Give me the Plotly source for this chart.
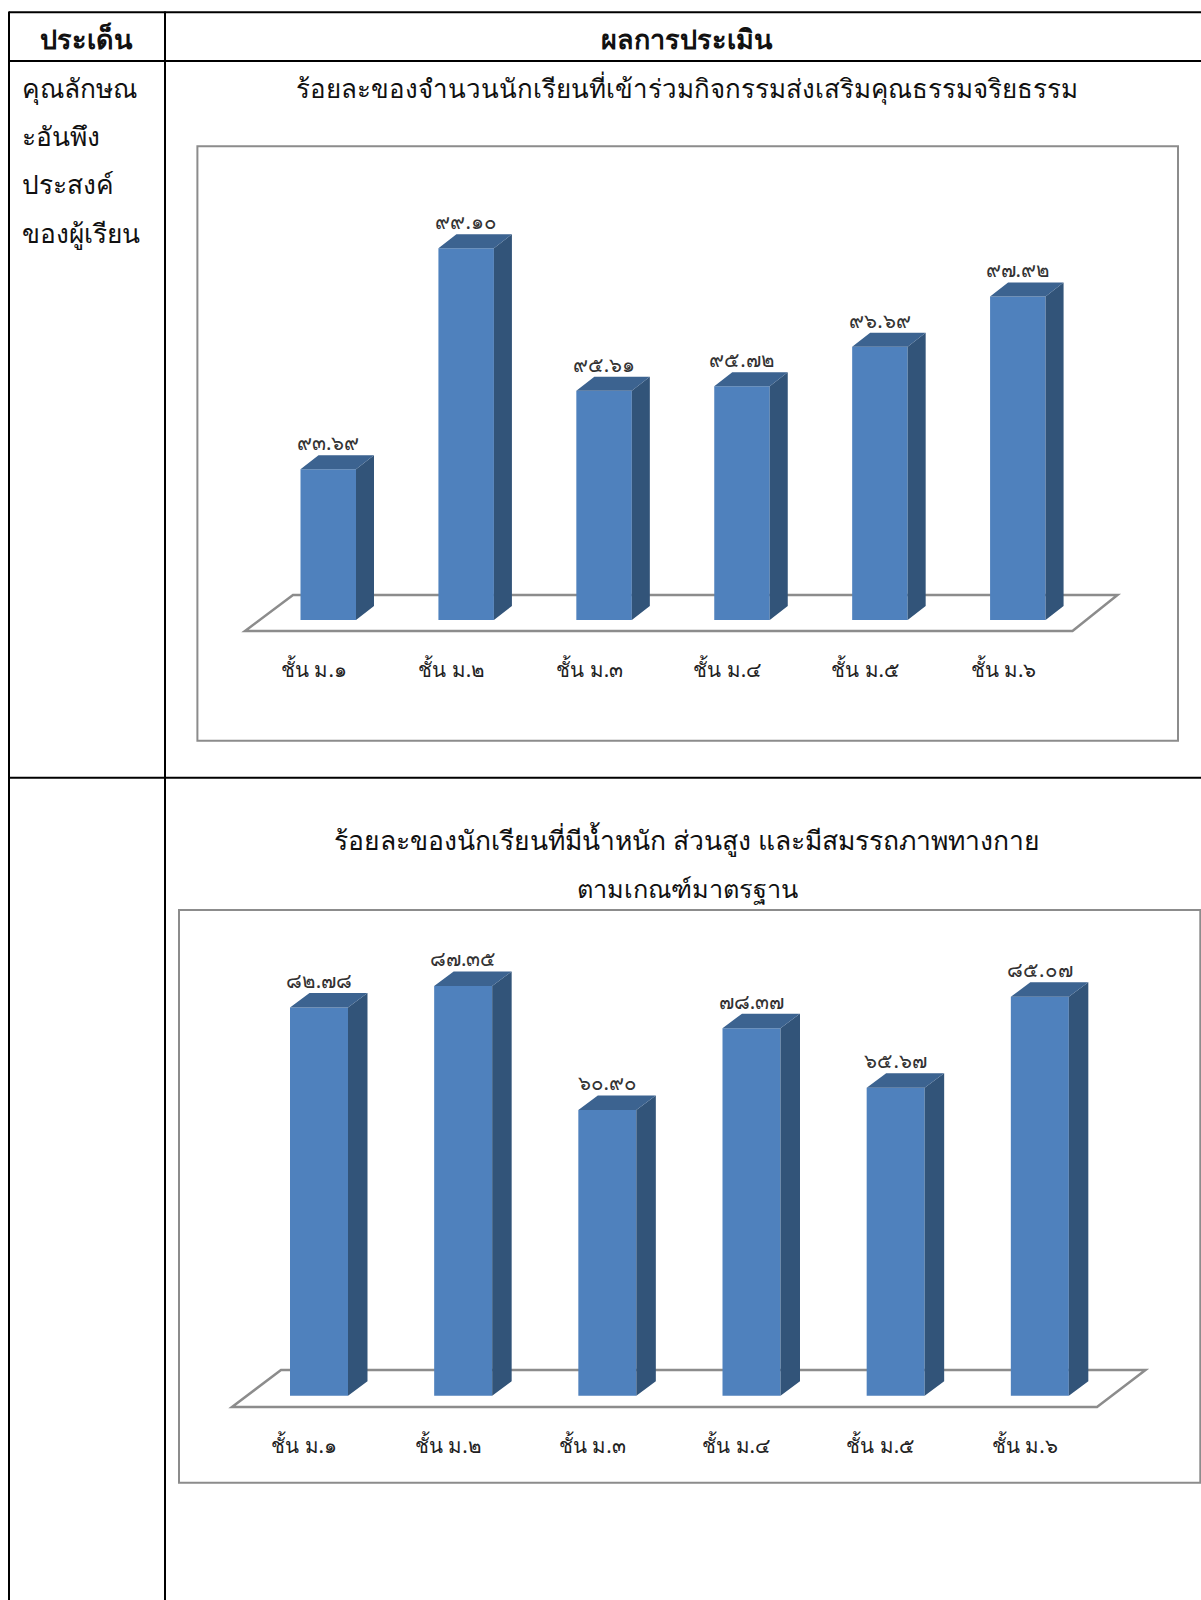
import plotly.graph_objects as go

W, H = 1201, 1600

# ---- data ----
categories = ["ชั้น ม.๑", "ชั้น ม.๒", "ชั้น ม.๓", "ชั้น ม.๔", "ชั้น ม.๕", "ชั้น ม.๖"]
activity_values = [93.69, 99.10, 95.61, 95.72, 96.69, 97.92]
fitness_values = [82.78, 87.35, 60.90, 78.37, 65.67, 85.07]
header_labels = ["ประเด็น", "ผลการประเมิน"]
side_lines = ["คุณลักษณ", "ะอันพึง", "ประสงค์", "ของผู้เรียน"]
title_one = "ร้อยละของจำนวนนักเรียนที่เข้าร่วมกิจกรรมส่งเสริมคุณธรรมจริยธรรม"
title_two = ["ร้อยละของนักเรียนที่มีน้ำหนัก ส่วนสูง และมีสมรรถภาพทางกาย", "ตามเกณฑ์มาตรฐาน"]

FONT = "Noto Sans, DejaVu Sans, sans-serif"
FRONT, SIDE, TOP = "#4F81BD", "#325479", "#3C6390"
GREY = "#8C8C8C"
THAI = str.maketrans("0123456789", "๐๑๒๓๔๕๖๗๘๙")
PAD = 5


def px(x):
    return x / W


def py(y):
    return 1 - y / H


fig = go.Figure()


def add_chart(idx, values, base, y_at_base, px_per_unit, floor_left, floor_right, floor_front_y,
              floor_back_y, floor_back_left, floor_back_right, bar_left, bar_w, depth_x, depth_y,
              top_y, label_y):
    ax = "" if idx == 1 else str(idx)
    slot = (floor_right - floor_left) / len(values)
    bottom = floor_front_y + PAD
    right = floor_back_right + PAD
    left = floor_left - PAD
    ulo = base - (bottom - y_at_base) / px_per_unit
    uhi = base + (y_at_base - top_y) / px_per_unit
    xs = list(range(len(values)))
    offs = (bar_left - (floor_left + slot / 2)) / slot
    wid = bar_w / slot
    dx, dy = depth_x / slot, depth_y / px_per_unit
    to_dx = lambda p: -0.5 + (p - floor_left) / slot
    to_dy = lambda p: base + (y_at_base - p) / px_per_unit

    fig.add_trace(go.Bar(x=xs, y=[v - base for v in values], base=[base] * len(values),
                         width=wid, offset=offs,
                         marker=dict(color=FRONT, line=dict(width=0)),
                         xaxis="x" + ax, yaxis="y" + ax, showlegend=False))
    side_x, side_y, top_x, top_y_ = [], [], [], []
    for i, v in zip(xs, values):
        l, r = i + offs, i + offs + wid
        side_x += [r, r + dx, r + dx, r, r, None]
        side_y += [base, base + dy, v + dy, v, base, None]
        top_x += [l, l + dx, r + dx, r, l, None]
        top_y_ += [v, v + dy, v + dy, v, v, None]
    for sx, sy, c in ((side_x, side_y, SIDE), (top_x, top_y_, TOP)):
        fig.add_trace(go.Scatter(x=sx, y=sy, mode="lines", fill="toself", fillcolor=c,
                                 line=dict(width=0, color=c), hoverinfo="skip",
                                 xaxis="x" + ax, yaxis="y" + ax, showlegend=False))
    fig.add_trace(go.Scatter(x=[i + offs + wid / 2 for i in xs], y=[v + dy for v in values],
                             mode="text", text=[f"{v:.2f}".translate(THAI) for v in values],
                             textposition="top center", textfont=dict(size=20.5, color="#333333", family=FONT),
                             xaxis="x" + ax, yaxis="y" + ax, showlegend=False, cliponaxis=False))

    path = (f"M {to_dx(floor_left)} {to_dy(floor_front_y)} L {to_dx(floor_right)} {to_dy(floor_front_y)} "
            f"L {to_dx(floor_back_right)} {to_dy(floor_back_y)} L {to_dx(floor_back_left)} {to_dy(floor_back_y)} Z")
    fig.add_shape(type="path", path=path, xref="x" + ax, yref="y" + ax, layer="below",
                  line=dict(color=GREY, width=2.5), fillcolor="white")

    fig.update_layout({
        "xaxis" + ax: dict(domain=[px(left), px(right)], range=[to_dx(left), to_dx(right)],
                           tickmode="array", tickvals=xs, ticktext=categories, showgrid=False,
                           zeroline=False, showline=False, ticks="outside", ticklen=label_y - PAD,
                           tickcolor="rgba(0,0,0,0)", anchor="y" + ax,
                           tickfont=dict(size=20.5, color="#222222", family=FONT)),
        "yaxis" + ax: dict(domain=[py(bottom), py(top_y)], range=[ulo, uhi], visible=False,
                           anchor="x" + ax),
    })


add_chart(1, activity_values, base=90, y_at_base=620, px_per_unit=40.85,
          floor_left=245, floor_right=1072.5, floor_front_y=631, floor_back_y=595,
          floor_back_left=293, floor_back_right=1117.5, bar_left=300.5, bar_w=55.5,
          depth_x=18, depth_y=14, top_y=160, label_y=20)
add_chart(2, fitness_values, base=0, y_at_base=1395.7, px_per_unit=4.69,
          floor_left=232, floor_right=1097, floor_front_y=1407, floor_back_y=1370,
          floor_back_left=281, floor_back_right=1145.5, bar_left=290, bar_w=58,
          depth_x=19.5, depth_y=14.5, top_y=920, label_y=20)


# table rules and chart frames
def line(x0, y0, x1, y1, color="black", width=2):
    fig.add_shape(type="line", xref="paper", yref="paper", x0=px(x0), y0=py(y0), x1=px(x1), y1=py(y1),
                  line=dict(color=color, width=width), layer="below")


line(9, 12.3, W, 12.3)
line(9, 61, W, 61)
line(9, 777.7, W, 777.7)
line(9, 11.5, 9, H)
line(165, 11.5, 165, H)
for x0, y0, x1, y1 in ((197.4, 146.2, 1178, 740.7), (179, 910, 1200.3, 1482.7)):
    fig.add_shape(type="rect", xref="paper", yref="paper", x0=px(x0), y0=py(y0), x1=px(x1), y1=py(y1),
                  line=dict(color=GREY, width=2), layer="below")


def text(x, y, s, size, anchor="center", bold=False):
    fig.add_annotation(x=px(x), y=py(y), xref="paper", yref="paper", text=f"<b>{s}</b>" if bold else s,
                       showarrow=False, xanchor=anchor, yanchor="middle",
                       font=dict(size=size, color="#111111", family=FONT))


text(86, 38, header_labels[0], 27, bold=True)
text(687, 38, header_labels[1], 27, bold=True)
for s, y in zip(side_lines, (88, 136, 184, 233)):
    text(20, y, s, 26.3, anchor="left")
text(687, 88, title_one, 25.9)
text(687, 840, title_two[0], 26.5)
text(687, 888, title_two[1], 25.3)

fig.update_layout(width=W, height=H, margin=dict(l=0, r=0, t=0, b=0), paper_bgcolor="white",
                  plot_bgcolor="rgba(0,0,0,0)", showlegend=False)
fig.write_html("out.html", post_script="document.body.style.margin='0';document.body.style.overflow='hidden';",
               config={"displayModeBar": False})
